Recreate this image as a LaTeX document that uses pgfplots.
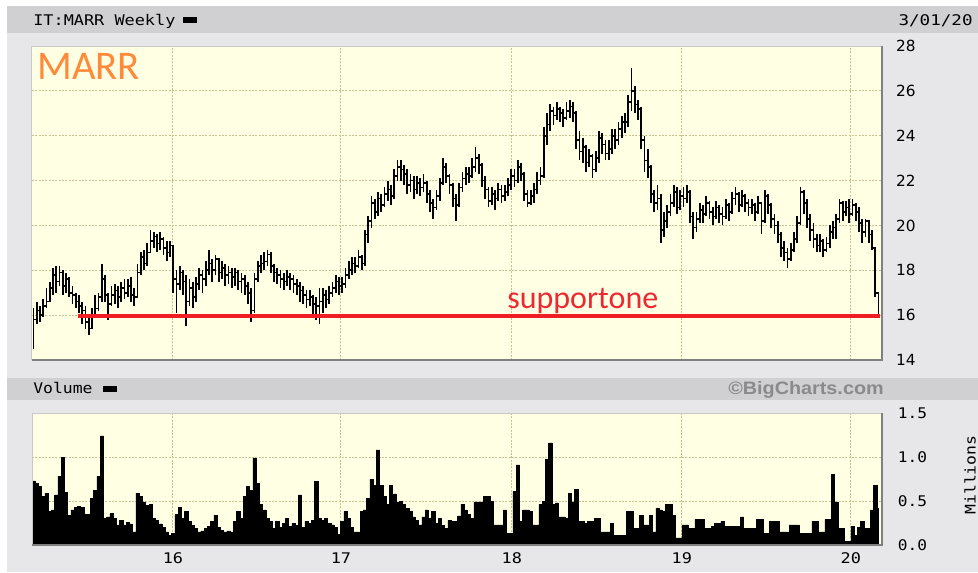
\documentclass[border=0pt]{standalone}
\usepackage{pgfplots}
\pgfplotsset{compat=1.18}
\usepackage{pgfplotstable}
\usepackage{fontspec}
\setmainfont{DejaVu Sans}
\newfontfamily\monofont{DejaVu Sans Mono}
\newfontfamily\calib{Carlito}
\newfontfamily\arialf{Liberation Sans}
\definecolor{panel}{RGB}{231,231,233}
\definecolor{barc}{RGB}{208,208,210}
\definecolor{plotbg}{RGB}{255,255,228}
\definecolor{gridc}{RGB}{200,194,146}
\definecolor{framed}{RGB}{128,128,128}
\definecolor{framel}{RGB}{200,200,200}
\definecolor{marr}{RGB}{255,138,58}
\definecolor{suptxt}{RGB}{236,40,50}
\definecolor{supline}{RGB}{240,30,36}
\definecolor{bcgray}{RGB}{138,138,138}

\pgfplotstableread{
c h l v
15.8 16.3 14.5 0.73
16.2 16.6 15.6 0.70
16.0 16.4 15.7 0.67
16.4 16.7 15.9 0.55
16.6 17.2 16.3 0.59
17.2 17.5 16.6 0.38
17.8 18.1 16.9 0.40
17.5 18.2 17.0 0.57
17.9 18.2 17.3 0.78
17.3 18.0 16.9 1.00
17.6 17.9 17.0 0.60
17.0 17.7 16.8 0.34
16.9 17.3 16.5 0.40
16.6 17.0 16.3 0.43
16.4 16.9 16.1 0.44
16.2 16.6 15.6 0.43
15.7 16.4 15.4 0.35
15.4 15.9 15.1 0.35
15.9 16.3 15.5 0.53
16.3 16.9 16.0 0.62
16.8 17.0 16.2 0.78
17.6 18.3 16.6 1.24
16.9 17.8 16.6 0.30
16.5 17.0 15.8 0.32
16.9 17.3 16.4 0.36
17.1 17.4 16.5 0.30
16.8 17.3 16.3 0.23
17.2 17.5 16.6 0.28
17.0 17.6 16.7 0.22
17.3 17.6 16.8 0.26
16.9 17.7 16.6 0.24
16.8 17.2 16.4 0.15
17.9 18.3 16.9 0.59
18.6 18.8 17.8 0.55
18.3 18.9 18.0 0.49
18.8 19.2 18.2 0.45
19.3 19.8 18.9 0.46
19.5 19.7 19.0 0.30
19.2 19.6 18.8 0.28
19.4 19.7 18.9 0.24
19.0 19.5 18.7 0.20
18.8 19.3 18.4 0.15
19.1 19.3 18.6 0.11
17.6 18.9 17.0 0.13
17.4 18.0 16.1 0.35
17.9 18.2 17.1 0.43
17.5 18.0 16.9 0.30
16.6 17.8 15.5 0.38
17.2 17.6 16.4 0.27
16.8 17.5 16.3 0.22
17.4 17.7 16.6 0.19
17.8 18.1 17.1 0.15
17.6 18.0 17.0 0.16
18.0 18.4 17.3 0.19
18.3 18.9 17.8 0.21
18.0 18.5 17.5 0.27
18.5 18.7 17.8 0.34
17.9 18.5 17.5 0.20
18.1 18.4 17.6 0.17
17.8 18.3 17.3 0.15
17.9 18.2 17.4 0.16
17.7 18.1 17.2 0.15
17.9 18.1 17.3 0.27
17.5 18.0 17.1 0.38
17.6 17.9 17.0 0.30
17.3 17.8 16.9 0.55
17.0 17.5 16.5 0.67
16.2 17.2 15.7 0.62
17.6 17.9 16.1 0.99
18.2 18.4 17.5 0.70
18.3 18.7 17.9 0.46
18.4 18.8 18.0 0.40
18.7 18.9 18.2 0.30
18.2 18.8 17.9 0.27
17.9 18.3 17.5 0.19
17.8 18.1 17.4 0.27
17.6 18.0 17.2 0.20
17.5 17.9 17.1 0.25
17.7 18.0 17.3 0.30
17.6 17.9 17.1 0.21
17.4 17.8 17.0 0.25
17.3 17.6 16.9 0.22
17.1 17.5 16.6 0.57
16.9 17.3 16.5 0.20
16.7 17.1 16.3 0.27
16.8 17.1 16.4 0.25
16.5 16.9 16.0 0.28
16.4 16.8 15.8 0.72
16.6 17.2 15.6 0.30
16.9 17.2 16.1 0.28
16.7 17.1 16.3 0.30
17.0 17.3 16.5 0.25
17.2 17.5 16.8 0.23
17.5 17.8 17.0 0.20
17.3 17.7 16.9 0.12
17.4 17.7 17.0 0.27
17.8 18.1 17.2 0.38
18.0 18.4 17.6 0.30
18.3 18.6 17.8 0.20
18.2 18.6 17.9 0.15
18.6 18.9 18.1 0.15
18.3 18.7 18.0 0.38
19.6 19.8 18.2 0.40
20.2 20.4 19.2 0.53
21.0 21.3 19.9 0.75
20.6 21.2 20.3 0.68
21.2 21.5 20.4 1.08
20.9 21.4 20.6 0.68
21.4 21.7 20.8 0.55
21.6 22.0 21.1 0.46
21.3 21.8 20.9 0.68
22.2 22.5 21.2 0.58
22.6 22.9 22.0 0.49
22.5 22.9 22.0 0.50
22.3 22.7 21.8 0.46
21.8 22.5 21.4 0.42
22.0 22.3 21.5 0.38
21.6 22.2 21.2 0.32
21.9 22.2 21.4 0.28
21.7 22.1 21.3 0.23
21.9 22.3 21.5 0.32
21.4 22.0 21.0 0.40
21.0 21.6 20.6 0.30
20.8 21.2 20.3 0.38
21.3 21.6 20.7 0.25
21.9 22.1 21.1 0.30
22.6 23.0 21.8 0.22
22.2 22.8 21.9 0.19
21.8 22.3 21.4 0.28
21.2 21.9 20.8 0.27
20.9 21.4 20.2 0.27
21.7 21.9 20.8 0.33
22.1 22.4 21.5 0.46
22.3 22.6 21.8 0.40
22.2 22.6 21.9 0.35
22.6 23.0 22.1 0.30
23.0 23.5 22.4 0.49
22.7 23.2 22.3 0.49
22.0 22.8 21.7 0.49
21.6 22.2 21.2 0.55
21.1 21.7 20.8 0.55
21.4 21.7 20.9 0.50
21.2 21.6 20.7 0.23
21.6 21.9 21.1 0.23
21.3 21.8 21.0 0.23
21.5 21.8 21.1 0.40
21.8 22.1 21.3 0.13
22.2 22.5 21.6 0.13
22.0 22.5 21.7 0.61
22.6 22.9 21.9 0.91
22.3 22.8 22.0 0.27
21.4 22.4 21.1 0.40
21.0 21.6 20.8 0.40
21.3 21.6 20.9 0.38
21.6 21.9 21.0 0.23
22.0 22.4 21.4 0.23
22.2 22.6 21.8 0.46
24.0 24.4 22.1 0.50
24.5 25.0 23.6 0.97
25.1 25.4 24.2 1.16
24.9 25.3 24.5 0.46
25.2 25.5 24.7 0.48
25.0 25.3 24.6 0.32
24.8 25.2 24.4 0.32
25.1 25.5 24.7 0.30
25.3 25.6 24.8 0.59
25.0 25.5 24.6 0.49
23.8 25.1 23.4 0.63
23.3 24.2 22.9 0.27
23.5 23.9 22.8 0.27
22.8 23.6 22.4 0.25
23.1 23.4 22.6 0.27
22.5 23.2 22.1 0.27
23.0 23.3 22.4 0.30
23.9 24.2 22.8 0.30
23.6 24.1 23.2 0.15
23.2 23.8 22.9 0.15
23.4 23.8 22.9 0.15
24.0 24.3 23.2 0.25
23.8 24.3 23.4 0.11
24.3 24.6 23.6 0.11
24.6 24.9 23.9 0.11
24.6 25.0 24.1 0.11
25.5 25.8 24.4 0.38
26.0 27.0 25.1 0.38
25.4 26.2 25.0 0.19
25.2 25.6 24.7 0.19
23.8 25.3 23.4 0.34
22.9 24.0 22.4 0.23
22.6 23.4 22.1 0.23
21.4 22.7 21.0 0.34
21.0 21.6 20.6 0.15
21.2 21.8 20.7 0.42
19.8 21.4 19.2 0.40
20.2 20.6 19.5 0.38
20.6 20.9 19.9 0.46
21.0 21.4 20.4 0.46
21.5 21.8 20.8 0.34
20.8 21.7 20.5 0.08
21.3 21.6 20.7 0.08
21.2 21.7 20.8 0.23
21.5 21.8 21.0 0.23
20.4 21.6 20.1 0.19
19.9 20.6 19.4 0.19
20.3 20.6 19.7 0.29
20.7 21.0 20.1 0.29
20.5 20.9 20.1 0.29
21.0 21.3 20.4 0.19
20.6 21.1 20.3 0.19
20.4 20.8 20.0 0.21
20.8 21.1 20.3 0.25
20.5 20.9 20.1 0.25
20.4 20.8 20.0 0.27
20.9 21.2 20.3 0.21
20.6 21.0 20.2 0.21
21.2 21.5 20.5 0.21
21.4 21.7 20.9 0.21
20.9 21.5 20.6 0.21
21.3 21.6 20.8 0.32
21.0 21.4 20.6 0.19
20.8 21.2 20.4 0.19
20.9 21.2 20.5 0.19
20.6 21.0 20.2 0.19
21.0 21.3 20.5 0.29
20.2 21.0 19.6 0.29
21.3 21.6 20.1 0.13
20.9 21.4 20.5 0.13
20.3 21.0 19.9 0.27
20.0 20.5 19.6 0.27
19.6 20.2 19.2 0.27
19.0 19.7 18.6 0.15
18.8 19.3 18.4 0.15
18.5 19.0 18.1 0.15
18.9 19.2 18.4 0.23
19.4 19.7 18.8 0.23
20.1 20.4 19.2 0.23
21.5 21.7 20.0 0.13
21.0 21.6 20.5 0.13
20.3 21.2 19.9 0.13
19.8 20.5 19.3 0.13
19.4 20.1 19.0 0.27
19.1 19.6 18.8 0.27
19.3 19.6 18.8 0.15
18.9 19.4 18.6 0.15
19.2 19.5 18.8 0.29
19.7 20.0 19.0 0.29
19.9 20.2 19.4 0.80
20.3 20.5 19.4 0.49
21.0 21.2 20.1 0.19
20.6 21.1 20.2 0.19
20.8 21.1 20.4 0.04
20.5 21.2 20.1 0.04
20.9 21.2 20.4 0.21
20.6 21.0 20.2 0.11
20.1 20.8 19.7 0.20
19.7 20.3 19.2 0.27
20.2 20.3 19.5 0.19
19.6 20.1 19.2 0.19
19.0 19.8 18.9 0.40
17.0 18.5 16.8 0.68
16.1 17.0 16.0 0.42
}\data

\begin{document}
\begin{tikzpicture}[x=0.75pt,y=0.75pt]
\path[use as bounding box] (0,0) rectangle (978,572);
\fill[white] (0,0) rectangle (978,572);
\fill[panel] (7,0) rectangle (978,566);
\fill[barc] (7,539) rectangle (978,566);
\fill[barc] (7,172) rectangle (978,194);
% title bar texts
\node[anchor=base west, inner sep=0, font=\monofont\fontsize{11}{13}\selectfont, xscale=1.15] at (33,546) {IT:MARR Weekly};
\fill[black] (183,549) rectangle (197,555);
\node[anchor=base east, inner sep=0, font=\monofont\fontsize{11}{13}\selectfont, xscale=1.2] at (973,546) {3/01/20};
\node[anchor=base west, inner sep=0, font=\monofont\fontsize{11}{13}\selectfont, xscale=1.12] at (33,179) {Volume};
\fill[black] (103,180) rectangle (117,186);
\node[anchor=base east, inner sep=0, font=\arialf\bfseries\fontsize{13.5}{15}\selectfont, text=bcgray, xscale=1.1] at (884,178) {\textcopyright BigCharts.com};
\node[rotate=90, inner sep=0, font=\monofont\fontsize{11}{13}\selectfont, xscale=1.12] at (970,97) {Millions};

% price axis
\begin{axis}[
  at={(24pt,159pt)}, anchor=south west,
  scale only axis, width=637.5pt, height=235.5pt,
  xmin=-0.46, xmax=261.08, ymin=14, ymax=28,
  ytick={14,16,...,28}, yticklabel pos=right,
  xtick={42.92,94.6,147.2,199.5,251.5}, xticklabels={},
  grid=major,
  major grid style={gridc, dash pattern=on 1.5pt off 1pt, line width=0.75pt},
  axis background/.style={fill=plotbg},
  axis line style={draw=none},
  major tick length=0pt,
  /pgf/number format/assume math mode=true,
  yticklabel style={font=\fontsize{11.5}{13}\selectfont, anchor=west, xshift=7pt},
  clip=false,
]
\addplot[black, line width=1.2pt, const plot, no marks,
  error bars/.cd, y dir=both, y explicit, error mark=none,
  error bar style={draw=black, line width=1.25pt, solid}]
  table[x expr=\coordindex, y=c,
        y error plus expr=\thisrow{h}-\thisrow{c},
        y error minus expr=\thisrow{c}-\thisrow{l}] {\data};
\addplot[supline, line width=3pt] coordinates {(13.7,15.97) (260.6,15.97)};
\draw[framel, line width=0.75pt] (rel axis cs:0,0) -- (rel axis cs:0,1) -- (rel axis cs:1,1);
\draw[framed, line width=1.6pt] (rel axis cs:0,0) -- (rel axis cs:1,0) -- (rel axis cs:1,1);
\end{axis}

\node[anchor=base west, inner sep=0, font=\calib\fontsize{30.5}{34}\selectfont, text=marr] at (37,492) {MARR};
\node[anchor=base west, inner sep=0, font=\calib\fontsize{24}{27}\selectfont, text=suptxt] at (507,263) {supportone};

% volume axis
\begin{axis}[
  at={(24pt,20.25pt)}, anchor=south west,
  scale only axis, width=637.5pt, height=99pt,
  xmin=-0.46, xmax=261.08, ymin=0, ymax=1.5,
  ytick={0,0.5,1,1.5}, yticklabels={0.0,0.5,1.0,1.5}, yticklabel pos=right,
  xtick={42.92,94.6,147.2,199.5,251.5}, xticklabels={16,17,18,19,20},
  grid=major,
  major grid style={gridc, dash pattern=on 1.5pt off 1pt, line width=0.75pt},
  axis background/.style={fill=plotbg},
  axis line style={draw=none},
  major tick length=0pt,
  /pgf/number format/assume math mode=true,
  yticklabel style={font=\monofont\fontsize{11}{13}\selectfont, anchor=west, xshift=8pt, xscale=1.1},
  xticklabel style={font=\monofont\fontsize{11}{13}\selectfont, yshift=-2.5pt, xscale=1.15},
  clip=false,
]
\addplot[fill=black, draw=black, line width=0.3pt, const plot mark mid]
  table[x expr=\coordindex, y=v] {\data} \closedcycle;
\draw[framel, line width=0.75pt] (rel axis cs:0,0) -- (rel axis cs:0,1) -- (rel axis cs:1,1);
\draw[framed, line width=1.6pt] (rel axis cs:0,0) -- (rel axis cs:1,0) -- (rel axis cs:1,1);
\end{axis}
\end{tikzpicture}
\end{document}
